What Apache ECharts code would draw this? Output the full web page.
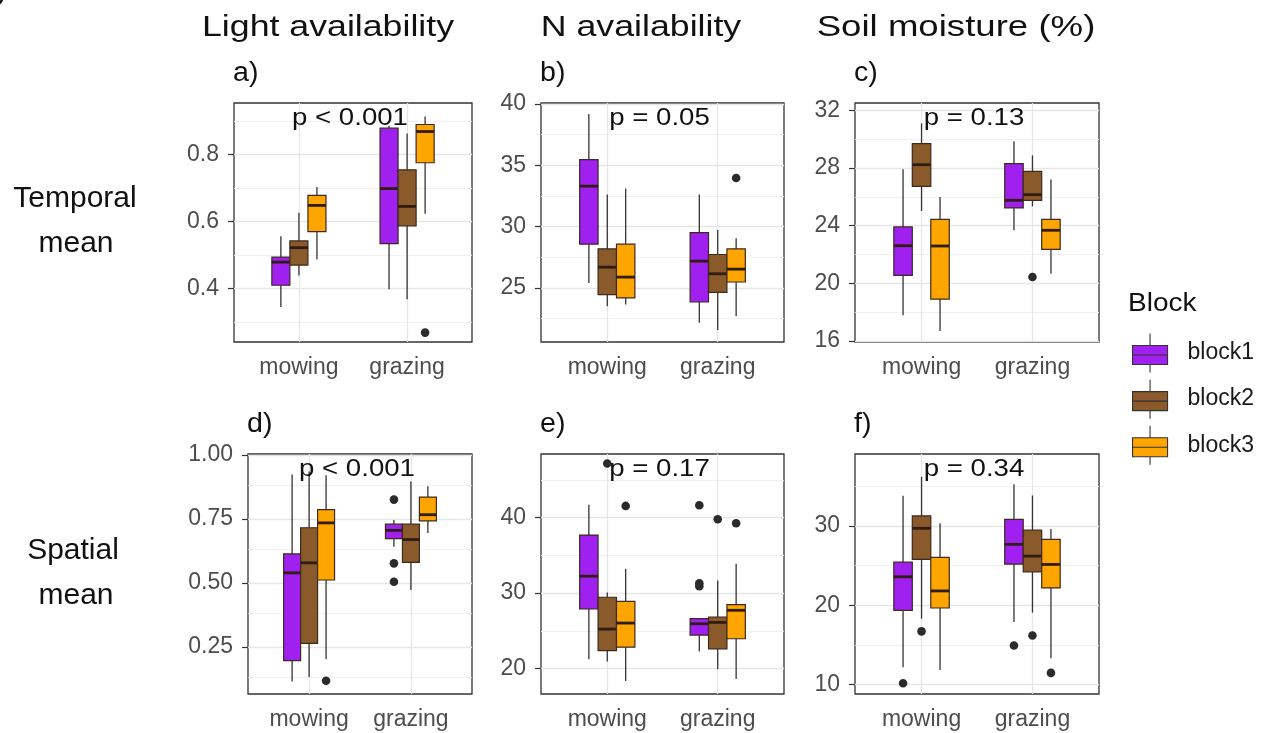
<!DOCTYPE html>
<html>
<head>
<meta charset="utf-8">
<script src="https://cdn.jsdelivr.net/npm/echarts@6/dist/echarts.min.js"></script>
<style>
html,body{margin:0;padding:0;background:#fff;}
#chart{width:1274px;height:733px;}
</style>
</head>
<body>
<div id="chart"></div>
<script>
// ---------------- DATA ----------------
const categories = ['mowing', 'grazing'];
const blockNames = ['block1', 'block2', 'block3'];
const blockColors = ['#A020F0', '#8B5A2B', '#FFA500'];
const colTitles = ['Light availability', 'N availability', 'Soil moisture (%)'];
const rowTitles = [['Temporal', 'mean'], ['Spatial', 'mean']];
const panelLetters = ['a)', 'b)', 'c)', 'd)', 'e)', 'f)'];
const pValues = ['p < 0.001', 'p = 0.05', 'p = 0.13', 'p < 0.001', 'p = 0.17', 'p = 0.34'];

// box stats per block: [mowing, grazing], each [lowWhisker, Q1, median, Q3, highWhisker]
const statsA = [
  [[0.345, 0.410, 0.479, 0.494, 0.556], [0.398, 0.534, 0.698, 0.878, 0.885]],
  [[0.439, 0.470, 0.522, 0.542, 0.626], [0.368, 0.587, 0.645, 0.754, 0.862]],
  [[0.487, 0.570, 0.648, 0.678, 0.703], [0.623, 0.775, 0.868, 0.889, 0.913]]
];
const statsB = [
  [[25.41, 28.57, 33.30, 35.46, 39.19], [22.16, 23.86, 27.19, 29.51, 32.62]],
  [[23.51, 24.46, 26.70, 28.19, 32.62], [21.57, 24.65, 26.16, 27.73, 29.73]],
  [[23.65, 24.19, 25.89, 28.57, 33.11], [22.70, 25.49, 26.54, 28.19, 29.05]]
];
const statsC = [
  [[17.78, 20.55, 22.61, 23.91, 27.91], [23.68, 25.23, 25.76, 28.30, 29.85]],
  [[25.02, 26.73, 28.23, 29.69, 31.10], [25.34, 25.76, 26.15, 27.77, 28.88]],
  [[16.69, 18.91, 22.59, 24.44, 25.99], [20.67, 22.36, 23.68, 24.44, 27.21]]
];
const statsD = [
  [[0.115, 0.196, 0.539, 0.613, 0.923], [0.641, 0.673, 0.705, 0.729, 0.745]],
  [[0.132, 0.264, 0.578, 0.715, 0.935], [0.472, 0.580, 0.669, 0.729, 0.896]],
  [[0.203, 0.511, 0.734, 0.786, 0.920], [0.695, 0.742, 0.766, 0.835, 0.877]]
];
const statsE = [
  [[21.24, 27.89, 32.24, 37.69, 41.69], [22.26, 24.43, 25.94, 26.61, 26.70]],
  [[20.93, 22.39, 25.23, 29.45, 30.09], [19.91, 22.62, 26.12, 26.83, 31.66]],
  [[18.36, 22.84, 26.03, 28.91, 33.22], [18.63, 23.95, 27.72, 28.47, 33.88]]
];
const statsF = [
  [[12.19, 19.37, 23.59, 25.44, 33.80], [17.89, 25.19, 27.68, 30.84, 35.27]],
  [[18.31, 25.78, 29.70, 31.27, 36.20], [19.07, 24.22, 26.20, 29.49, 33.84]],
  [[11.86, 19.66, 21.81, 26.03, 30.34], [13.33, 22.19, 25.15, 28.31, 29.62]]
];

// outliers: [categoryIndex (1=mowing, 2=grazing), value, blockIndex]
const outA = [[2, 0.269, 2]];
const outB = [[2, 33.97, 2]];
const outC = [[2, 20.44, 1]];
const outD = [[2, 0.825, 0], [2, 0.576, 0], [2, 0.504, 0], [1, 0.118, 2]];
const outE = [[1, 47.18, 1], [1, 41.55, 2], [2, 41.64, 0], [2, 31.30, 0], [2, 30.90, 0], [2, 39.78, 1], [2, 39.25, 2]];
const outF = [[1, 10.17, 0], [1, 16.71, 1], [2, 14.94, 0], [2, 16.20, 1], [2, 11.48, 2]];

// y-axis ranges, major ticks, minor grid values
const yRangeA = [0.241, 0.953], ticksA = [0.4, 0.6, 0.8], minorA = [0.3, 0.5, 0.7, 0.9];
const yRangeB = [20.6, 40.08], ticksB = [25, 30, 35, 40], minorB = [22.5, 27.5, 32.5, 37.5];
const yRangeC = [15.93, 32.51], ticksC = [16, 20, 24, 28, 32], minorC = [18, 22, 26, 30];
const yRangeD = [0.066, 1.003], ticksD = [0.25, 0.50, 0.75, 1.00], minorD = [0.125, 0.375, 0.625, 0.875];
const yRangeE = [16.63, 48.43], ticksE = [20, 30, 40], minorE = [25, 35, 45];
const yRangeF = [8.82, 39.07], ticksF = [10, 20, 30], minorF = [15, 25, 35];

// ---------------- LAYOUT ----------------
const FONT = '"Liberation Sans", Arial, Helvetica, sans-serif';
const panels = [
  {stats: statsA, out: outA, range: yRangeA, ticks: ticksA, minor: minorA, dec: 1, grid: {left: 234, top: 103, width: 238, height: 239}},
  {stats: statsB, out: outB, range: yRangeB, ticks: ticksB, minor: minorB, dec: 0, grid: {left: 541, top: 103, width: 243, height: 239}},
  {stats: statsC, out: outC, range: yRangeC, ticks: ticksC, minor: minorC, dec: 0, grid: {left: 855, top: 103, width: 244, height: 239}},
  {stats: statsD, out: outD, range: yRangeD, ticks: ticksD, minor: minorD, dec: 2, grid: {left: 248, top: 454, width: 224, height: 240}},
  {stats: statsE, out: outE, range: yRangeE, ticks: ticksE, minor: minorE, dec: 0, grid: {left: 541, top: 454, width: 243, height: 240}},
  {stats: statsF, out: outF, range: yRangeF, ticks: ticksF, minor: minorF, dec: 0, grid: {left: 855, top: 454, width: 244, height: 240}}
];
const BOX_W = 0.1667;
const offsets = [-0.1667, 0, 0.1667];

function boxRender(offset, color) {
  return function (params, api) {
    const x = api.value(0) + offset;
    const lo = api.coord([x, api.value(1)]);
    const q1 = api.coord([x, api.value(2)]);
    const md = api.coord([x, api.value(3)]);
    const q3 = api.coord([x, api.value(4)]);
    const hi = api.coord([x, api.value(5)]);
    const w = api.size([BOX_W, 0])[0];
    const cx = lo[0];
    return {
      type: 'group',
      children: [
        {type: 'line', shape: {x1: cx, y1: hi[1], x2: cx, y2: q3[1]}, style: {stroke: '#333333', lineWidth: 1.3}},
        {type: 'line', shape: {x1: cx, y1: q1[1], x2: cx, y2: lo[1]}, style: {stroke: '#333333', lineWidth: 1.3}},
        {type: 'rect', shape: {x: cx - w / 2, y: q3[1], width: w, height: q1[1] - q3[1]},
         style: {fill: color, stroke: '#3b2a1e', lineWidth: 1.2}},
        {type: 'line', shape: {x1: cx - w / 2, y1: md[1], x2: cx + w / 2, y2: md[1]},
         style: {stroke: '#2e1d12', lineWidth: 2.8}}
      ]
    };
  };
}

function outlierRender(params, api) {
  const x = api.value(0) + offsets[api.value(2)];
  const p = api.coord([x, api.value(1)]);
  return {type: 'circle', shape: {cx: p[0], cy: p[1], r: 4.3}, style: {fill: '#2b2b2b'}};
}

const grids = [], xAxes = [], yAxes = [], series = [];
panels.forEach((pn, i) => {
  grids.push(Object.assign({show: true, borderColor: '#333333', borderWidth: 1.3, backgroundColor: '#ffffff'}, pn.grid));
  xAxes.push({
    type: 'value', gridIndex: i, min: 0.4, max: 2.6,
    axisLine: {show: false}, axisTick: {show: false}, splitLine: {show: false},
    axisLabel: {customValues: [1, 2], formatter: v => categories[Math.round(v) - 1],
                fontSize: 23, fontFamily: FONT, color: '#4d4d4d', margin: 14}
  });
  yAxes.push({
    type: 'value', gridIndex: i, min: pn.range[0], max: pn.range[1],
    axisLine: {show: false}, splitLine: {show: false},
    axisTick: {show: true, customValues: pn.ticks, length: 6, lineStyle: {color: '#333333', width: 1.2}},
    axisLabel: {customValues: pn.ticks, formatter: v => Number(v).toFixed(pn.dec),
                fontSize: 23, fontFamily: FONT, color: '#4d4d4d', margin: 15}
  });
  // grid lines
  const lines = [];
  pn.minor.forEach(v => lines.push({yAxis: v, lineStyle: {color: '#efefef', width: 0.9, type: 'solid'}}));
  pn.ticks.forEach(v => lines.push({yAxis: v, lineStyle: {color: '#e6e6e6', width: 1.3, type: 'solid'}}));
  [1, 2].forEach(v => lines.push({xAxis: v, lineStyle: {color: '#e6e6e6', width: 1.3, type: 'solid'}}));
  series.push({
    type: 'line', name: 'grid' + i, xAxisIndex: i, yAxisIndex: i, data: [], silent: true,
    markLine: {silent: true, symbol: ['none', 'none'], label: {show: false}, z: 1,
               animation: false, emphasis: {disabled: true}, data: lines}
  });
  blockNames.forEach((bn, b) => {
    series.push({
      type: 'custom', name: bn, xAxisIndex: i, yAxisIndex: i, z: 3,
      itemStyle: {color: blockColors[b]},
      renderItem: boxRender(offsets[b], blockColors[b]),
      encode: {x: 0, y: [1, 2, 3, 4, 5]},
      data: pn.stats[b].map((s, c) => [c + 1].concat(s))
    });
  });
  series.push({
    type: 'custom', name: 'outliers' + i, xAxisIndex: i, yAxisIndex: i, z: 4,
    renderItem: outlierRender, encode: {x: 0, y: 1},
    data: pn.out
  });
});

function txt(text, x, y, size, opts) {
  opts = opts || {};
  const align = opts.align || 'center';
  return {
    type: 'text', x: x, y: y, scaleX: opts.sx || 1, silent: true, z: 100,
    style: {text: text, x: 0, y: 0, font: size + 'px ' + FONT, fill: opts.color || '#111111',
            align: align, verticalAlign: 'middle', textAlign: align, textVerticalAlign: 'middle'}
  };
}

const graphics = [
  txt(')', -3, -9, 30, {align: 'left'}),
  txt(colTitles[0], 328, 28, 30, {sx: 1.19}),
  txt(colTitles[1], 641, 28, 30, {sx: 1.19}),
  txt(colTitles[2], 956, 28, 30, {sx: 1.22}),
  txt(rowTitles[0][0], 75, 199, 30),
  txt(rowTitles[0][1], 76, 244, 30),
  txt(rowTitles[1][0], 73, 551, 30),
  txt(rowTitles[1][1], 76, 596, 30),
  txt('Block', 1128, 304, 25, {align: 'left', sx: 1.12})
];
panels.forEach((pn, i) => {
  const g = pn.grid;
  graphics.push(txt(panelLetters[i], g.left - 1, g.top - 29, 27, {align: 'left', sx: 1.06}));
  graphics.push(txt(pValues[i], g.left + g.width / 2 - 3, g.top + 16, 23, {sx: 1.2}));
});

const chart = echarts.init(document.getElementById('chart'), null, {renderer: 'canvas'});
chart.setOption({
  animation: false,
  backgroundColor: '#ffffff',
  grid: grids,
  xAxis: xAxes,
  yAxis: yAxes,
  series: series,
  graphic: {elements: graphics, z: 100},
  legend: {
    data: blockNames,
    orient: 'vertical',
    left: 1127, top: 328,
    itemWidth: 50, itemHeight: 39, itemGap: 6,
    icon: 'path://M17.5,0L17.5,12M0,12L35,12L35,31L0,31ZM0,21.5L35,21.5M17.5,31L17.5,39M50,19.5L50,19.5',
    itemStyle: {borderColor: '#333333', borderWidth: 1.1},
    selectedMode: false,
    textStyle: {fontSize: 23, fontFamily: FONT, color: '#1a1a1a', padding: [5, 0, 0, 0]}
  }
});
</script>
</body>
</html>
